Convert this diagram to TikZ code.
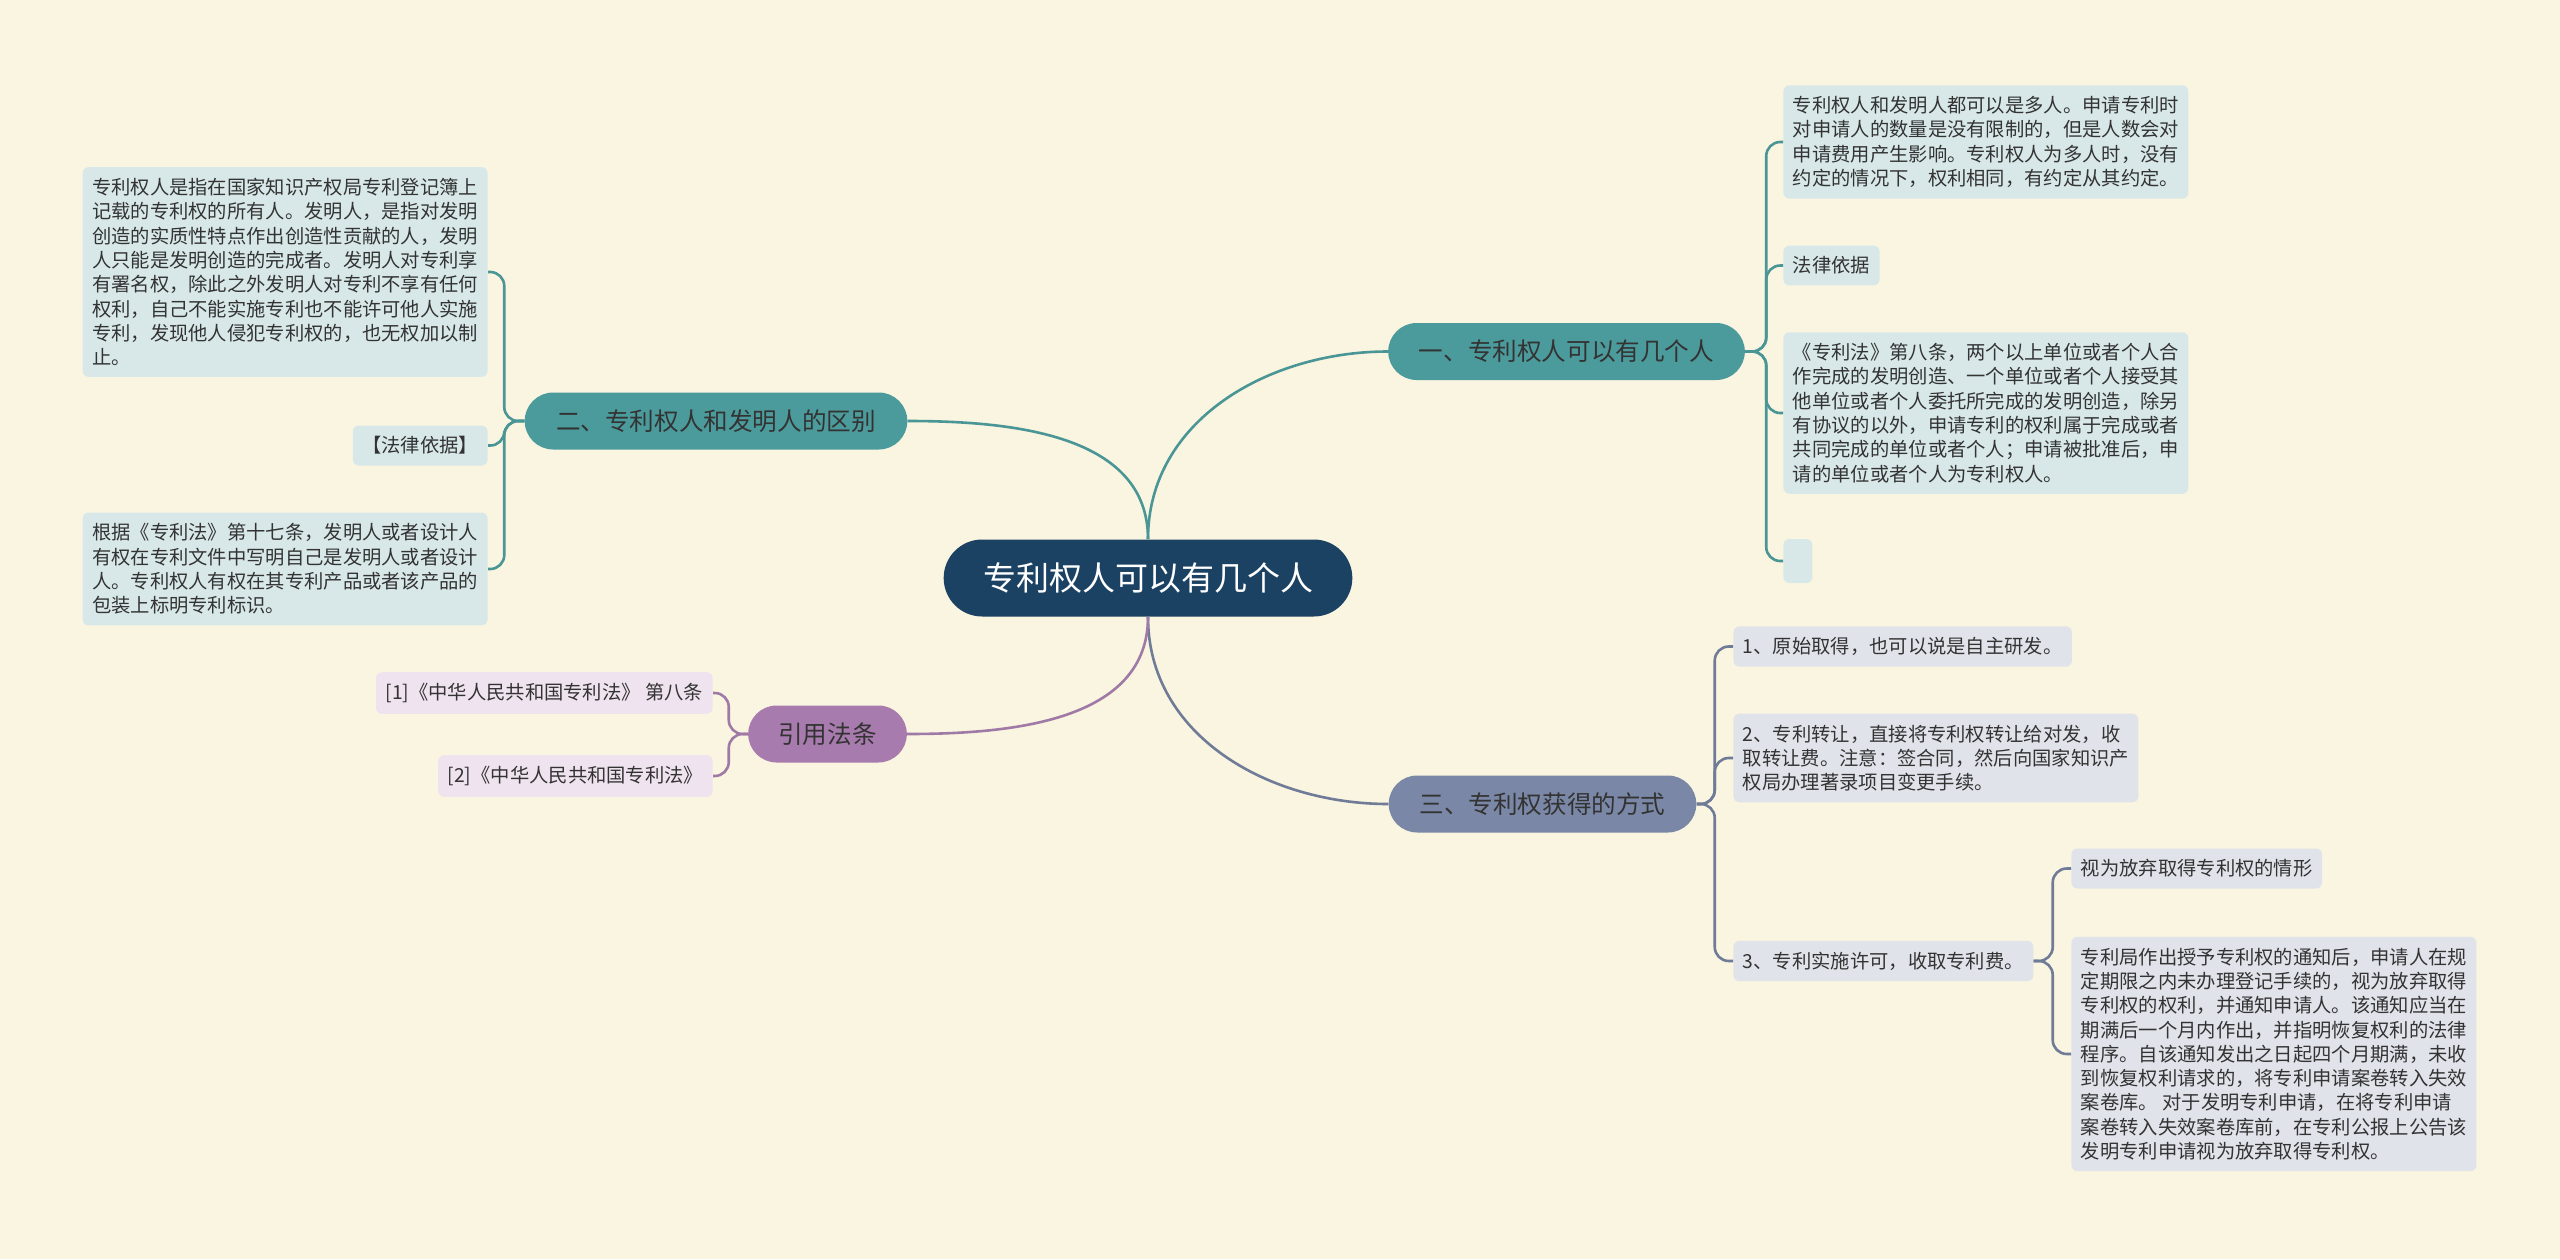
\documentclass[tikz,border=0pt]{standalone}
\usepackage{fontspec}
\setmainfont{Noto Sans CJK SC}
\usepackage{tikz}
\usetikzlibrary{shapes.misc}

\definecolor{bgcol}{HTML}{FAF5E0}
\definecolor{ink}{HTML}{333333}
\definecolor{rootcol}{HTML}{1B4262}
\definecolor{tealcol}{HTML}{4C9B9C}
\definecolor{tealleaf}{HTML}{D8E8E9}
\definecolor{tealline}{HTML}{4A9595}
\definecolor{slatecol}{HTML}{7A87A6}
\definecolor{slateleaf}{HTML}{E0E3EA}
\definecolor{slateline}{HTML}{6F7B97}
\definecolor{lilaccol}{HTML}{A87BAE}
\definecolor{lilacleaf}{HTML}{EEE3EE}
\definecolor{lilacline}{HTML}{A07AA6}

\begin{document}
\begin{tikzpicture}[
    x=0.5pt, y=-0.5pt,
    root/.style={rounded rectangle, fill=rootcol, text=white, font=\fontsize{16.5}{20}\selectfont, minimum width=211pt, minimum height=38.5pt},
    topic/.style={rounded rectangle, text=ink, font=\fontsize{12.3}{15}\selectfont, minimum height=28.5pt},
    leaf/.style={rectangle, rounded corners=3pt, align=left, text=ink, font=\fontsize{9.65}{12.15}\selectfont, inner xsep=4.75pt, inner ysep=5.5pt},
    link/.style={line width=1.3pt, rounded corners=7pt}
]
\fill[bgcol] (0,0) rectangle (2560,1259);
\useasboundingbox (0,0) rectangle (2560,1259);

% centre and main topics
\node[root] (root) at (1148,578) {专利权人可以有几个人};
\node[topic, fill=tealcol, minimum width=185pt] (b1) at (1566.5,351.5) {一、专利权人可以有几个人};
\node[topic, fill=tealcol, minimum width=198pt] (b2) at (716,421) {二、专利权人和发明人的区别};
\node[topic, fill=slatecol, minimum width=160.5pt] (b3) at (1542.5,804) {三、专利权获得的方式};
\node[topic, fill=lilaccol, minimum width=86pt] (b4) at (827.5,734) {引用法条};

% left: 专利权人和发明人的区别
\node[leaf, fill=tealleaf, anchor=east] (l1) at (488,272) {专利权人是指在国家知识产权局专利登记簿上\\记载的专利权的所有人。发明人，是指对发明\\创造的实质性特点作出创造性贡献的人，发明\\人只能是发明创造的完成者。发明人对专利享\\有署名权，除此之外发明人对专利不享有任何\\权利，自己不能实施专利也不能许可他人实施\\专利，发现他人侵犯专利权的，也无权加以制\\止。};
\node[leaf, fill=tealleaf, anchor=east] (l2) at (488,445.5) {【法律依据】};
\node[leaf, fill=tealleaf, anchor=east] (l3) at (488,569) {根据《专利法》第十七条，发明人或者设计人\\有权在专利文件中写明自己是发明人或者设计\\人。专利权人有权在其专利产品或者该产品的\\包装上标明专利标识。};

% left: 引用法条
\node[leaf, fill=lilacleaf, anchor=east] (c1) at (713,693) {[1]《中华人民共和国专利法》 第八条};
\node[leaf, fill=lilacleaf, anchor=east] (c2) at (713,776) {[2]《中华人民共和国专利法》};

% right: 专利权人可以有几个人
\node[leaf, fill=tealleaf, anchor=west] (r1) at (1783,142) {专利权人和发明人都可以是多人。申请专利时\\对申请人的数量是没有限制的，但是人数会对\\申请费用产生影响。专利权人为多人时，没有\\约定的情况下，权利相同，有约定从其约定。};
\node[leaf, fill=tealleaf, anchor=west] (r2) at (1783,265.5) {法律依据};
\node[leaf, fill=tealleaf, anchor=west] (r3) at (1783,413) {《专利法》第八条，两个以上单位或者个人合\\作完成的发明创造、一个单位或者个人接受其\\他单位或者个人委托所完成的发明创造，除另\\有协议的以外，申请专利的权利属于完成或者\\共同完成的单位或者个人；申请被批准后，申\\请的单位或者个人为专利权人。};
\node[leaf, fill=tealleaf, anchor=west, minimum width=14.5pt, minimum height=22pt] (r4) at (1783,561) {};

% right: 专利权获得的方式
\node[leaf, fill=slateleaf, anchor=west] (t1) at (1733,646.5) {1、原始取得，也可以说是自主研发。};
\node[leaf, fill=slateleaf, anchor=west] (t2) at (1733,758) {2、专利转让，直接将专利权转让给对发，收\\取转让费。注意：签合同，然后向国家知识产\\权局办理著录项目变更手续。};
\node[leaf, fill=slateleaf, anchor=west] (t3) at (1733,961) {3、专利实施许可，收取专利费。};
\node[leaf, fill=slateleaf, anchor=west] (u1) at (2071,868.5) {视为放弃取得专利权的情形};
\node[leaf, fill=slateleaf, anchor=west] (u2) at (2071,1054) {专利局作出授予专利权的通知后，申请人在规\\定期限之内未办理登记手续的，视为放弃取得\\专利权的权利，并通知申请人。该通知应当在\\期满后一个月内作出，并指明恢复权利的法律\\程序。自该通知发出之日起四个月期满，未收\\到恢复权利请求的，将专利申请案卷转入失效\\案卷库。 对于发明专利申请，在将专利申请\\案卷转入失效案卷库前，在专利公报上公告该\\发明专利申请视为放弃取得专利权。};

% connectors
\draw[link, tealline] (root.north) to[out=90, in=180] (b1.west);
\draw[link, tealline] (root.north) to[out=90, in=0] (b2.east);
\draw[link, slateline] (root.south) to[out=-90, in=180] (b3.west);
\draw[link, lilacline] (root.south) to[out=-90, in=0] (b4.east);

\draw[link, tealline] (b2.west) -- ++(-20,0) |- (l1.east);
\draw[link, tealline] (b2.west) -- ++(-20,0) |- (l2.east);
\draw[link, tealline] (b2.west) -- ++(-20,0) |- (l3.east);

\draw[link, lilacline] (b4.west) -- ++(-19,0) |- (c1.east);
\draw[link, lilacline] (b4.west) -- ++(-19,0) |- (c2.east);

\draw[link, tealline] (b1.east) -- ++(21,0) |- (r1.west);
\draw[link, tealline] (b1.east) -- ++(21,0) |- (r2.west);
\draw[link, tealline] (b1.east) -- ++(21,0) |- (r3.west);
\draw[link, tealline] (b1.east) -- ++(21,0) |- (r4.west);

\draw[link, slateline] (b3.east) -- ++(18,0) |- (t1.west);
\draw[link, slateline] (b3.east) -- ++(18,0) |- (t2.west);
\draw[link, slateline] (b3.east) -- ++(18,0) |- (t3.west);

\draw[link, slateline] (t3.east) -- ++(19,0) |- (u1.west);
\draw[link, slateline] (t3.east) -- ++(19,0) |- (u2.west);
\end{tikzpicture}
\end{document}
